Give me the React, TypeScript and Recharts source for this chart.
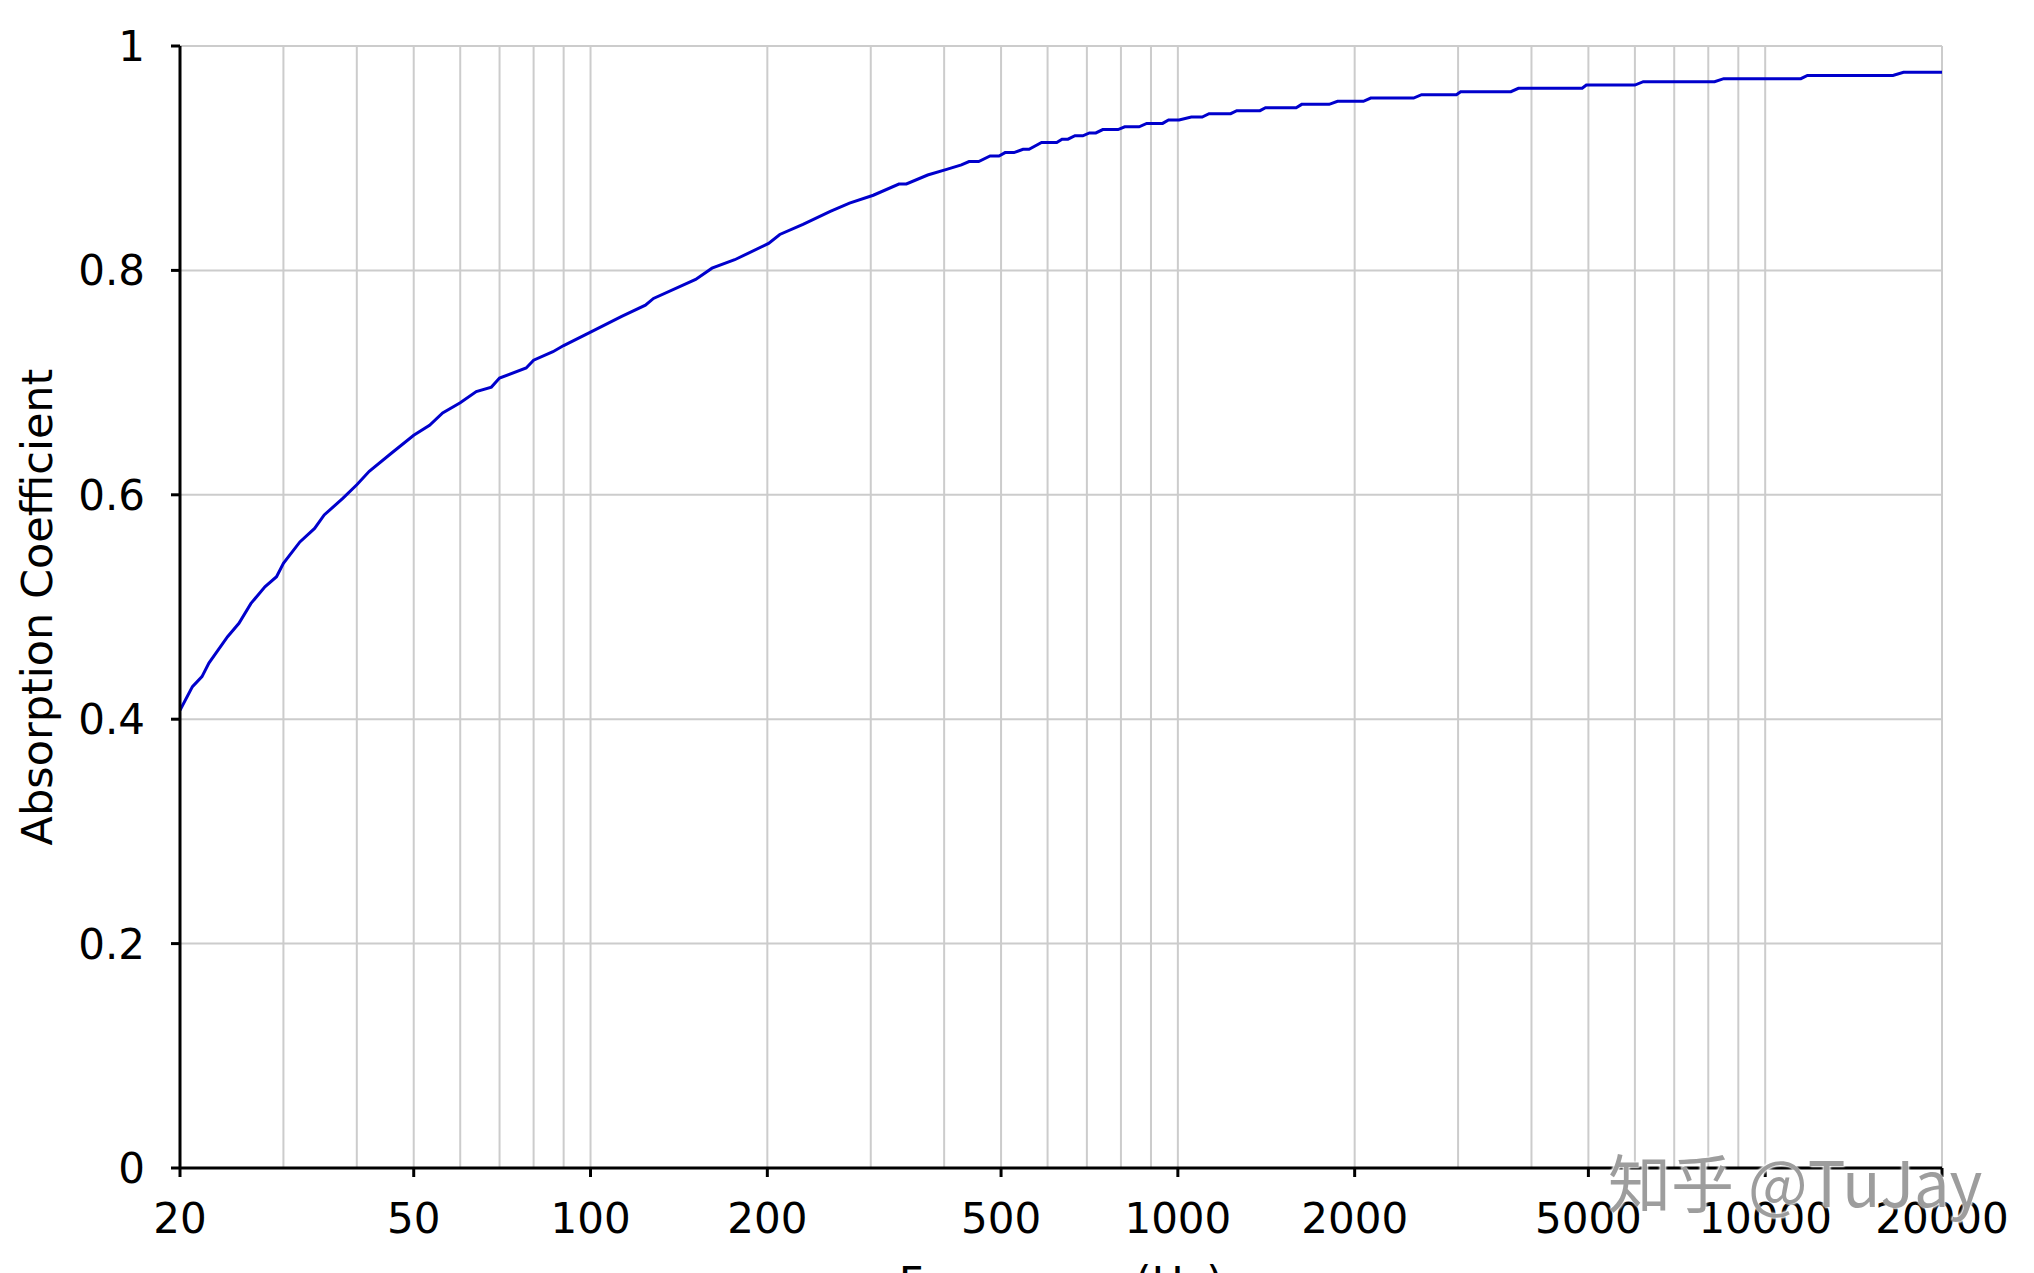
import React from 'react';
import { LineChart, Line, XAxis, YAxis, CartesianGrid } from 'recharts';

// frequency (Hz) and absorption coefficient
const freqHz = [
  20, 21, 21.8, 22.4, 24.1, 25.2, 26.4, 27.9, 29.2, 30, 32, 33.9, 35.2, 37.9, 40, 42, 45.8,
  50, 53.2, 56, 60, 63.9, 67.8, 70, 77.7, 80, 86.3, 90, 100, 113, 124, 128, 151, 161, 176,
  201, 210, 230, 256, 276, 303, 335, 345, 375, 404, 428, 441, 458, 479, 496, 508, 526, 545,
  558, 586, 622, 635, 650, 668, 689, 707, 725, 745, 791, 812, 859, 885, 942, 964, 1005, 1054,
  1100, 1130, 1230, 1260, 1380, 1410, 1590, 1625, 1810, 1870, 2070, 2130, 2520, 2600, 2980,
  3030, 3690, 3800, 4880, 4960, 6000, 6200, 8200, 8500, 11500, 11800, 16500, 17200, 20000,
];

const absorption = [
  0.408, 0.429, 0.438, 0.45, 0.4735, 0.4855, 0.503, 0.518, 0.527, 0.539, 0.558, 0.57, 0.582,
  0.597, 0.609, 0.621, 0.637, 0.653, 0.662, 0.673, 0.682, 0.692, 0.696, 0.704, 0.713, 0.72,
  0.7275, 0.733, 0.745, 0.759, 0.769, 0.775, 0.792, 0.802, 0.8095, 0.824, 0.832, 0.841, 0.8526,
  0.86, 0.867, 0.877, 0.877, 0.885, 0.89, 0.894, 0.897, 0.897, 0.902, 0.902, 0.905, 0.905,
  0.908, 0.908, 0.914, 0.914, 0.917, 0.917, 0.92, 0.92, 0.9225, 0.9225, 0.9255, 0.9255, 0.928,
  0.928, 0.931, 0.931, 0.934, 0.934, 0.9367, 0.9367, 0.9397, 0.9397, 0.9424, 0.9424, 0.945,
  0.945, 0.948, 0.948, 0.9507, 0.9507, 0.9536, 0.9536, 0.9566, 0.9566, 0.9593, 0.9593, 0.9623,
  0.9623, 0.9652, 0.9652, 0.9682, 0.9682, 0.9709, 0.9709, 0.9738, 0.9738, 0.9765, 0.9765,
];

const xTicks = [20, 50, 100, 200, 500, 1000, 2000, 5000, 10000, 20000];
const xGrid = [
  30, 40, 50, 60, 70, 80, 90, 100, 200, 300, 400, 500, 600, 700, 800, 900,
  1000, 2000, 3000, 4000, 5000, 6000, 7000, 8000, 9000, 10000, 20000,
];
const yTicks = [0, 0.2, 0.4, 0.6, 0.8, 1];

const data = freqHz.map((f, i) => ({ f, a: absorption[i] }));

const font = '"DejaVu Sans", Verdana, sans-serif';
const tickStyle = { fontSize: 42, fill: '#000', fontFamily: font };

const YTitle = (props: any) => {
  const vb = props.viewBox || {};
  const cy = (vb.y || 0) + (vb.height || 0) / 2;
  return (
    <text x={52} y={cy} transform={`rotate(-90, 52, ${cy})`} textAnchor="middle"
      fontSize={43} fontFamily={font} fill="#000">
      Absorption Coefficient
    </text>
  );
};

const XTitle = (props: any) => {
  const vb = props.viewBox || {};
  const cx = (vb.x || 0) + (vb.width || 0) / 2;
  // sits mostly below the page edge, as in the source image
  return (
    <text x={cx} y={1297} textAnchor="middle" fontSize={43} fontFamily={font} fill="#000">
      Frequency (Hz)
    </text>
  );
};

const App = () => {
  return (
    <div style={{ position: 'relative', width: 2034, height: 1273, background: '#fff' }}>
      <style>{`body { margin: 0; overflow: hidden; }`}</style>
      <LineChart width={2034} height={1273} data={data}
        margin={{ top: 46, right: 92, left: 0, bottom: 0 }}>
        <CartesianGrid stroke="#cccccc" strokeWidth={2}
          verticalValues={xGrid} horizontalValues={yTicks} />
        <XAxis dataKey="f" type="number" scale="log" domain={[20, 20000]} ticks={xTicks}
          allowDataOverflow height={105} tickSize={9} tickMargin={26} interval={0}
          axisLine={{ stroke: '#000', strokeWidth: 3 }} tickLine={{ stroke: '#000', strokeWidth: 3 }}
          tick={tickStyle} label={{ content: XTitle }} />
        <YAxis type="number" domain={[0, 1]} ticks={yTicks} width={180} tickSize={9}
          tickMargin={26} interval={0} tickFormatter={(v) => String(v)}
          axisLine={{ stroke: '#000', strokeWidth: 3 }} tickLine={{ stroke: '#000', strokeWidth: 3 }}
          tick={tickStyle} label={{ content: YTitle }} />
        <Line type="linear" dataKey="a" stroke="#0000cc" strokeWidth={3} dot={false}
          activeDot={false} isAnimationActive={false} />
      </LineChart>
      <div style={{
        position: 'absolute', left: 1608, top: 1138, fontSize: 63, lineHeight: '84px',
        fontFamily: '"Noto Sans CJK SC", "Noto Sans", sans-serif', color: 'rgba(140,140,140,0.85)',
        textShadow: '1px 1px 2px #fff, -1px -1px 2px #fff', whiteSpace: 'nowrap',
      }}>
        知乎 @TuJay
      </div>
    </div>
  );
};

export default App;
